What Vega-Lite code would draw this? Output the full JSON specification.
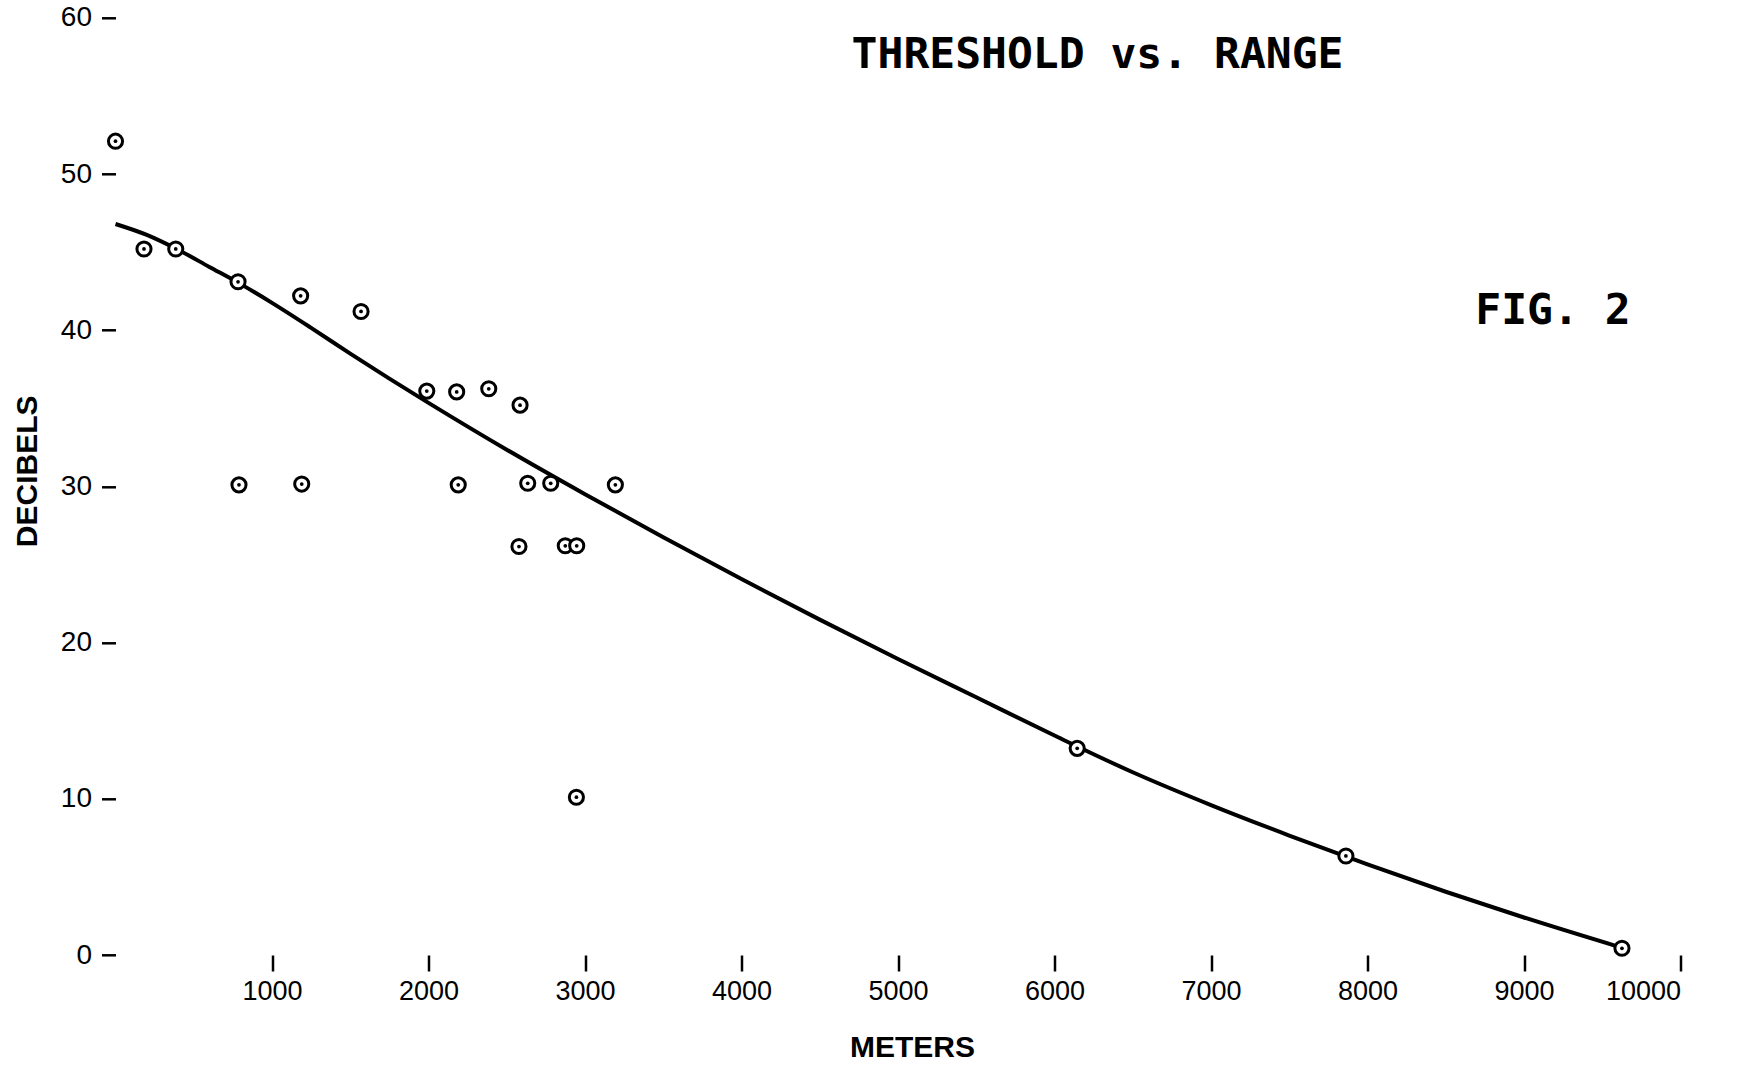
{
  "$schema": "https://vega.github.io/schema/vega-lite/v6.json",
  "width": 1565,
  "height": 937.2,
  "autosize": {"type": "none"},
  "padding": {"left": 115.5, "top": 17.8, "right": 57.5, "bottom": 113},
  "background": "white",
  "config": {
    "view": {"stroke": null},
    "axis": {
      "domain": false,
      "grid": false,
      "tickColor": "black",
      "tickWidth": 2.5,
      "labelColor": "black",
      "labelFont": "Liberation Sans",
      "labelFontSize": 27,
      "titleColor": "black",
      "titleFont": "Liberation Sans",
      "titleFontWeight": "bold",
      "titleFontSize": 30
    }
  },
  "datasets": {
    "points": [
      {"meters": 0, "decibels": 52.1},
      {"meters": 182, "decibels": 45.2},
      {"meters": 385, "decibels": 45.2},
      {"meters": 783, "decibels": 43.1},
      {"meters": 1183, "decibels": 42.2},
      {"meters": 1569, "decibels": 41.2},
      {"meters": 789, "decibels": 30.1},
      {"meters": 1190, "decibels": 30.15},
      {"meters": 1989, "decibels": 36.1},
      {"meters": 2180, "decibels": 36.05},
      {"meters": 2385, "decibels": 36.25},
      {"meters": 2585, "decibels": 35.2},
      {"meters": 2190, "decibels": 30.1},
      {"meters": 2634, "decibels": 30.2},
      {"meters": 2781, "decibels": 30.2},
      {"meters": 3194, "decibels": 30.1},
      {"meters": 2578, "decibels": 26.15},
      {"meters": 2874, "decibels": 26.2},
      {"meters": 2947, "decibels": 26.2},
      {"meters": 2945, "decibels": 10.1},
      {"meters": 6145, "decibels": 13.23},
      {"meters": 7862, "decibels": 6.34},
      {"meters": 9626, "decibels": 0.43}
    ],
    "curve": [
      {"meters": 0, "decibels": 46.8},
      {"meters": 200, "decibels": 46.1},
      {"meters": 400, "decibels": 45.15},
      {"meters": 600, "decibels": 44.05},
      {"meters": 800, "decibels": 42.95},
      {"meters": 1000, "decibels": 41.75},
      {"meters": 1250, "decibels": 40.15},
      {"meters": 1500, "decibels": 38.5},
      {"meters": 1750, "decibels": 36.9},
      {"meters": 2000, "decibels": 35.35},
      {"meters": 2500, "decibels": 32.35},
      {"meters": 3000, "decibels": 29.5},
      {"meters": 3500, "decibels": 26.75},
      {"meters": 4000, "decibels": 24.07},
      {"meters": 4500, "decibels": 21.47},
      {"meters": 5000, "decibels": 18.95},
      {"meters": 5500, "decibels": 16.5},
      {"meters": 6000, "decibels": 14.05},
      {"meters": 6500, "decibels": 11.7},
      {"meters": 7000, "decibels": 9.6},
      {"meters": 7500, "decibels": 7.65},
      {"meters": 8000, "decibels": 5.8},
      {"meters": 8500, "decibels": 4.05},
      {"meters": 9000, "decibels": 2.4},
      {"meters": 9626, "decibels": 0.46}
    ],
    "labels": [
      {"meters": 6275, "decibels": 57.6, "text": "THRESHOLD vs. RANGE"},
      {"meters": 9185, "decibels": 41.2, "text": "FIG. 2"}
    ]
  },
  "encoding": {
    "x": {
      "field": "meters",
      "type": "quantitative",
      "scale": {"domain": [0, 10000], "nice": false, "zero": false},
      "axis": {
        "title": "METERS",
        "values": [1000, 2000, 3000, 4000, 5000, 6000, 7000, 8000, 9000, 10000],
        "format": "d",
        "tickSize": 16,
        "labelPadding": 7,
        "titleX": 796.5,
        "titleY": 92,
        "titleAlign": "center",
        "titleBaseline": "middle"
      }
    },
    "y": {
      "field": "decibels",
      "type": "quantitative",
      "scale": {"domain": [0, 60], "nice": false},
      "axis": {
        "title": "DECIBELS",
        "values": [0, 10, 20, 30, 40, 50, 60],
        "tickSize": 14,
        "labelPadding": 10,
        "labelFontSize": 28,
        "titleX": -88.5,
        "titleY": 453,
        "titleAngle": -90,
        "titleAlign": "center",
        "titleBaseline": "middle"
      }
    }
  },
  "layer": [
    {
      "data": {"name": "curve"},
      "mark": {"type": "line", "interpolate": "monotone", "color": "black", "strokeWidth": 4, "clip": false}
    },
    {
      "data": {"name": "points"},
      "mark": {"type": "point", "shape": "circle", "filled": true, "fill": "white", "stroke": "black", "strokeWidth": 3, "size": 200, "opacity": 1, "clip": false}
    },
    {
      "data": {"name": "points"},
      "mark": {"type": "point", "shape": "circle", "filled": true, "fill": "black", "strokeWidth": 0, "size": 14, "opacity": 1, "clip": false}
    },
    {
      "data": {"name": "labels"},
      "mark": {"type": "text", "font": "DejaVu Sans Mono", "fontWeight": "bold", "fontSize": 43, "align": "center", "baseline": "middle", "color": "black"},
      "encoding": {"text": {"field": "text", "type": "nominal"}}
    }
  ]
}
